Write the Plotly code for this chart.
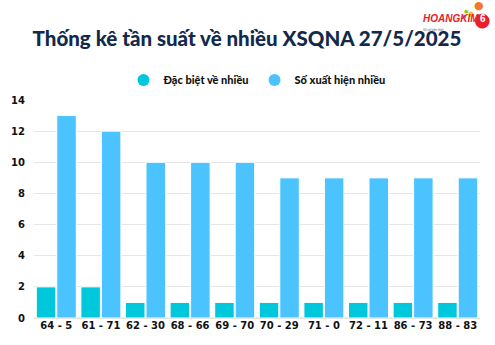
import plotly.graph_objects as go

categories = ["64 - 5", "61 - 71", "62 - 30", "68 - 66", "69 - 70", "70 - 29", "71 - 0", "72 - 11", "86 - 73", "88 - 83"]
dac_biet = [2, 2, 1, 1, 1, 1, 1, 1, 1, 1]
xuat_hien = [13, 12, 10, 10, 10, 9, 9, 9, 9, 9]
y_ticks = [0, 2, 4, 6, 8, 10, 12, 14]
series_names = ["Đặc biệt về nhiều", "Số xuất hiện nhiều"]
colors = ["#00C8DC", "#4BC3FF"]

W, H = 495, 345
L, R, T, B = 34, 15, 100, 27
PW, PH = W - L - R, H - T - B

def px(xv):
    return (xv - L) / PW

def py(yv):
    return (H - B - yv) / PH

fig = go.Figure()
for name, vals, col in zip(series_names, [dac_biet, xuat_hien], colors):
    fig.add_trace(go.Bar(x=categories, y=vals, name=name, showlegend=False,
                         marker=dict(color=col, line=dict(color="white", width=1))))
# legend entries with circular markers
for name, col in zip(series_names, colors):
    fig.add_trace(go.Scatter(x=[categories[0]], y=[None], mode="markers", name=name,
                             marker=dict(symbol="circle", size=12, color=col)))

fig.update_layout(
    width=W, height=H,
    margin=dict(l=L, r=R, t=T, b=B, autoexpand=False),
    paper_bgcolor="white", plot_bgcolor="white",
    barmode="group", bargap=0.08, bargroupgap=0.05,
    font=dict(family="Lato", color="#111111"),
    title=dict(text="Thống kê tần suất về nhiều XSQNA 27/5/2025",
               x=247 / W, xanchor="center", y=1 - 39 / H, yanchor="middle",
               font=dict(family="Lato", size=20.5, color="#13294B", weight=900)),
    legend=dict(orientation="h", x=0.5, xanchor="center", y=1 - 80 / H, yanchor="middle",
                yref="container", font=dict(size=11, color="#111111", family="Lato", weight=900),
                traceorder="normal", itemwidth=30),
    xaxis=dict(range=[-0.5, len(categories) - 0.5], showgrid=False,
               tickfont=dict(size=10, color="#111111", family="DejaVu Sans", weight="bold"),
               showline=False, ticks="", tickangle=0, automargin=False),
    yaxis=dict(range=[0, 14], tickvals=y_ticks, showgrid=True, gridcolor="#E6E6E6",
               zeroline=True, zerolinecolor="#E6E6E6", automargin=False,
               tickfont=dict(size=10, color="#111111", family="DejaVu Sans", weight="bold"),
               ticklabelstandoff=8),
)

# Logo (built from text glyphs)
def dot(cx, cy, size, color):
    fig.add_annotation(x=px(cx), y=py(cy), xref="paper", yref="paper", text="●",
                       showarrow=False, xanchor="center", yanchor="middle",
                       font=dict(family="DejaVu Sans", size=size, color=color))

for cx, cy, s, c in [(479, 6, 11, "#F07A2A"), (466, 11, 5, "#8CC63F"), (471, 14, 7, "#F5C518"), (464, 16, 5, "#2AA7E0")]:
    dot(cx, cy, s, c)
dot(483, 19, 19, "#E8202A")
fig.add_annotation(x=px(483), y=py(19), xref="paper", yref="paper",
                   text="<b>6</b>", showarrow=False, xanchor="center", yanchor="middle",
                   font=dict(family="Liberation Sans", size=10, color="white"))
fig.add_annotation(x=px(451), y=py(19), xref="paper", yref="paper",
                   text="<b><i>HOANGKIM</i></b>", showarrow=False,
                   font=dict(family="Liberation Sans", size=10, color="#E8202A"),
                   xanchor="center", yanchor="middle")
fig.add_annotation(x=px(446), y=py(26), xref="paper", yref="paper",
                   text="Xổ số kiến thiết", showarrow=False,
                   font=dict(family="Liberation Sans", size=3, color="#555555"))

fig.write_html("out.html")
